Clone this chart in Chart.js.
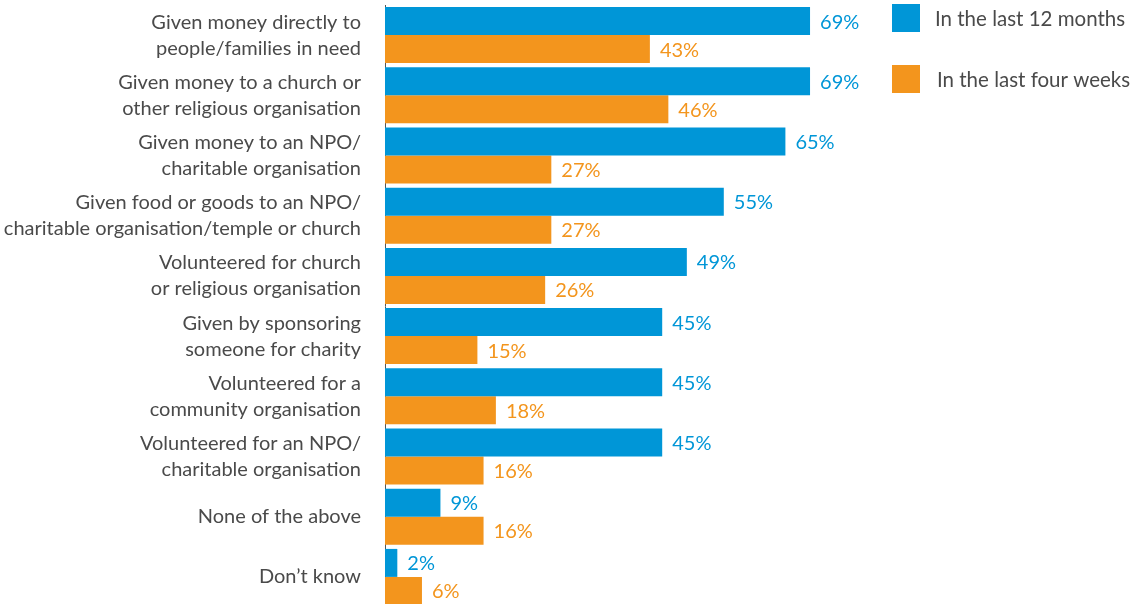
<!DOCTYPE html>
<html lang="en">
  <head>
    <meta charset="UTF-8" />
    <title>Giving behaviour</title>
    <style>
      html, body {
        margin: 0;
        padding: 0;
        background: #ffffff;
        overflow: hidden;
      }
      .chart-container {
        position: relative;
        width: 1145px;
        height: 604px;
        overflow: hidden;
      }
    </style>
    <script src="https://cdn.jsdelivr.net/npm/chart.js"></script>
  </head>
  <body>
    <div class="chart-container">
      <canvas id="myChart" width="1145" height="608"></canvas>
    </div>

    <script>
      const categories = [
        ['Given money directly to', 'people/families in need'],
        ['Given money to a church or', 'other religious organisation'],
        ['Given money to an NPO/', 'charitable organisation'],
        ['Given food or goods to an NPO/', 'charitable organisation/temple or church'],
        ['Volunteered for church', 'or religious organisation'],
        ['Given by sponsoring', 'someone for charity'],
        ['Volunteered for a', 'community organisation'],
        ['Volunteered for an NPO/', 'charitable organisation'],
        'None of the above',
        'Don\u2019t know'
      ];
      const last12Months = [69, 69, 65, 55, 49, 45, 45, 45, 9, 2];
      const lastFourWeeks = [43, 46, 27, 27, 26, 15, 18, 16, 16, 6];
      const seriesNames = ['In the last 12 months', 'In the last four weeks'];

      const BLUE = '#0096d7';
      const ORANGE = '#f3951d';
      const TEXT = '#4a4a4a';
      const FONT = 'Lato, "Noto Sans", sans-serif';

      // value labels at the end of each bar
      const valueLabels = {
        id: 'valueLabels',
        afterDatasetsDraw(chart) {
          const ctx = chart.ctx;
          ctx.save();
          ctx.font = '20px ' + FONT;
          ctx.textBaseline = 'middle';
          ctx.textAlign = 'left';
          chart.data.datasets.forEach((ds, di) => {
            const meta = chart.getDatasetMeta(di);
            meta.data.forEach((bar, i) => {
              ctx.fillStyle = ds.backgroundColor;
              ctx.fillText(ds.data[i] + '%', bar.x + 10, bar.y + 1);
            });
          });
          ctx.restore();
        }
      };

      // legend in the top right corner
      const sideLegend = {
        id: 'sideLegend',
        afterDraw(chart) {
          const ctx = chart.ctx;
          ctx.save();
          ctx.font = '20.5px ' + FONT;
          ctx.textBaseline = 'middle';
          ctx.textAlign = 'left';
          chart.data.datasets.forEach((ds, di) => {
            const top = 4 + di * 61;
            ctx.fillStyle = ds.backgroundColor;
            ctx.fillRect(892, top, 28, 28);
            ctx.fillStyle = TEXT;
            ctx.fillText(ds.label, 935 + di * 2, top + 15);
          });
          ctx.restore();
        }
      };

      const ctx = document.getElementById('myChart').getContext('2d');
      const myChart = new Chart(ctx, {
        type: 'bar',
        data: {
          labels: categories,
          datasets: [
            {
              label: seriesNames[0],
              data: last12Months,
              backgroundColor: BLUE,
              categoryPercentage: 0.93,
              barPercentage: 1.0
            },
            {
              label: seriesNames[1],
              data: lastFourWeeks,
              backgroundColor: ORANGE,
              categoryPercentage: 0.93,
              barPercentage: 1.0
            }
          ]
        },
        options: {
          indexAxis: 'y',
          responsive: false,
          animation: false,
          layout: {
            padding: { top: 5, right: 144, bottom: 1, left: 0 }
          },
          plugins: {
            legend: { display: false },
            tooltip: { enabled: false }
          },
          scales: {
            x: {
              display: false,
              min: 0,
              max: 100
            },
            y: {
              grid: { display: false, drawTicks: false },
              border: { display: true, color: '#555555', width: 1 },
              ticks: {
                color: TEXT,
                padding: 24,
                font: { family: FONT, size: 20, lineHeight: 1.3 }
              },
              afterFit(scale) {
                scale.width = 385;
                scale.paddingTop = 0;
                scale.paddingBottom = 0;
              }
            }
          }
        },
        plugins: [valueLabels, sideLegend]
      });
    </script>
  </body>
</html>
